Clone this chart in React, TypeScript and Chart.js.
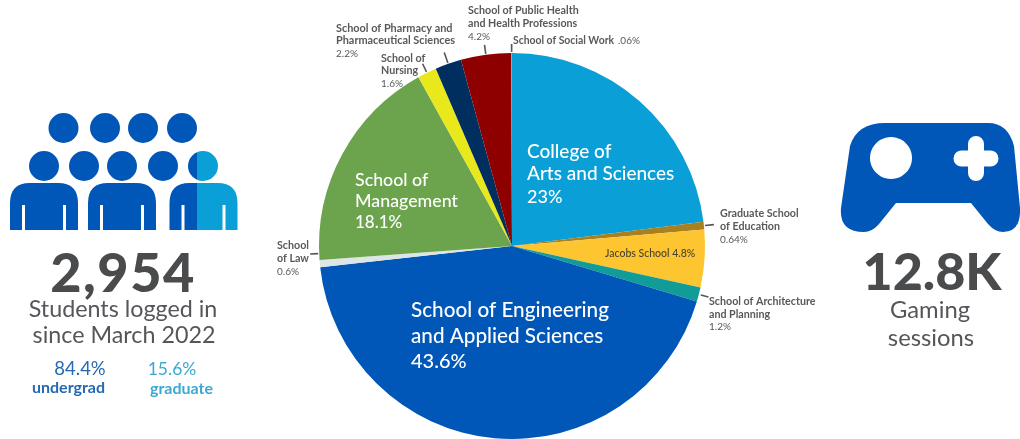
import React, { useEffect, useRef } from "react";
import { Chart, registerables } from "chart.js";

Chart.register(...registerables);

const schools = [
  "College of Arts and Sciences",
  "Graduate School of Education",
  "Jacobs School",
  "School of Architecture and Planning",
  "School of Engineering and Applied Sciences",
  "School of Law",
  "School of Management",
  "School of Nursing",
  "School of Pharmacy and Pharmaceutical Sciences",
  "School of Public Health and Health Professions",
  "School of Social Work",
];
const shares = [23, 0.64, 4.8, 1.2, 43.6, 0.6, 18.1, 1.6, 2.2, 4.2, 0.06];
const sliceColors = [
  "#0a9fd6", "#a8801f", "#fdc530", "#129c98", "#0057b8", "#dde5e5",
  "#6ba44c", "#e8e81c", "#002f5f", "#8e0000", "#e8776b",
];

const FONT = "Lato, 'Noto Sans', sans-serif";
const GREY = "#58595b";

// [text, x, baseline y, font size, weight, colour]
type T = [string, number, number, number, number, string];
const pieTexts: T[] = [
  ["College of", 527, 158, 19, 500, "#fff"],
  ["Arts and Sciences", 527, 180, 19, 500, "#fff"],
  ["23%", 527, 203, 18, 500, "#fff"],
  ["School of", 355, 186, 17.8, 500, "#fff"],
  ["Management", 355, 207, 17.8, 500, "#fff"],
  ["18.1%", 355, 228, 17, 500, "#fff"],
  ["School of Engineering", 411, 317, 20.7, 500, "#fff"],
  ["and Applied Sciences", 411, 343, 20.7, 500, "#fff"],
  ["43.6%", 411, 368, 20, 500, "#fff"],
  ["Jacobs School 4.8%", 605, 257, 10.5, 500, "#4a4430"],
  ["School of Public Health", 468, 14, 10.7, 700, GREY],
  ["and Health Professions", 468, 27, 10.7, 700, GREY],
  ["4.2%", 468, 40, 10, 400, GREY],
  ["School of Pharmacy and", 336, 32, 10.9, 700, GREY],
  ["Pharmaceutical Sciences", 336, 44, 10.9, 700, GREY],
  ["2.2%", 336, 57, 10, 400, GREY],
  ["School of", 381, 62, 10.7, 700, GREY],
  ["Nursing", 381, 74, 10.7, 700, GREY],
  ["1.6%", 381, 87, 10, 400, GREY],
  ["School of Social Work", 513, 44, 10.4, 700, GREY],
  [".06%", 618, 44, 10, 400, GREY],
  ["Graduate School", 720, 217, 10.7, 700, GREY],
  ["of Education", 720, 230, 10.7, 700, GREY],
  ["0.64%", 720, 243, 10, 400, GREY],
  ["School of Architecture", 709, 305, 10.7, 700, GREY],
  ["and Planning", 709, 318, 10.7, 700, GREY],
  ["1.2%", 709, 330, 10, 400, GREY],
  ["School", 277, 249, 10.7, 700, GREY],
  ["of Law", 277, 262, 10.7, 700, GREY],
  ["0.6%", 277, 275, 10, 400, GREY],
];

// [slice index, gap from the rim, length, angle nudge in degrees]
const leaders: [number, number, number, number][] = [
  [10, 1, 8, 0],
  [9, 1, 9, 0],
  [8, 1, 11, 0],
  [7, 1, 9, 0],
  [1, 1, 9, 0],
  [3, 2, 8, 0],
  [5, 1, 8, 3],
];

const piePlugin = {
  id: "pieNotes",
  afterDatasetsDraw(chart: any) {
    const { ctx } = chart;
    ctx.save();
    ctx.strokeStyle = "#55565a";
    ctx.lineWidth = 1.6;
    const arcs = chart.getDatasetMeta(0).data;
    for (const [i, gap, len, nudge] of leaders) {
      const a = arcs[i];
      const mid = (a.startAngle + a.endAngle) / 2 + (nudge * Math.PI) / 180;
      const r0 = a.outerRadius + gap;
      ctx.beginPath();
      ctx.moveTo(a.x + Math.cos(mid) * r0, a.y + Math.sin(mid) * r0);
      ctx.lineTo(a.x + Math.cos(mid) * (r0 + len), a.y + Math.sin(mid) * (r0 + len));
      ctx.stroke();
    }
    ctx.textAlign = "left";
    ctx.textBaseline = "alphabetic";
    for (const [s, x, y, size, weight, color] of pieTexts) {
      ctx.font = `${weight} ${size}px ${FONT}`;
      ctx.fillStyle = color;
      ctx.fillText(s, x, y);
    }
    ctx.restore();
  },
};

const BLUE = "#0057b8";
const CYAN = "#0a9fd6";
const topHeads = [63.5, 105, 143, 182];
const lowHeads = [44, 84, 122, 163];
const bodies = [10, 88];

const bodyPath = (x: number) =>
  `M${x} 230V203Q${x} 183 ${x + 20} 183H${x + 48}Q${x + 68} 183 ${x + 68} 203V230H${x + 56}V205H${x + 53}V230H${x + 15}V205H${x + 12}V230Z`;

function Label(p: { x: number; y: number; size: number; weight?: number; color?: string; children: string; spacing?: number; align?: "center" | "left" }) {
  const centered = p.align !== "left";
  return (
    <div
      style={{
        position: "absolute",
        left: p.x,
        top: p.y,
        transform: `translate(${centered ? "-50%" : "0"}, -50%)`,
        whiteSpace: "nowrap",
        letterSpacing: p.spacing ?? 0,
        font: `${p.weight ?? 400} ${p.size}px ${FONT}`,
        color: p.color ?? "#55565a",
      }}
    >
      {p.children}
    </div>
  );
}

export default function App() {
  const ref = useRef<HTMLCanvasElement>(null);
  useEffect(() => {
    const chart = new Chart(ref.current!, {
      type: "pie",
      data: {
        labels: schools,
        datasets: [{ data: shares, backgroundColor: sliceColors, borderWidth: 0 }],
      },
      options: {
        responsive: false,
        animation: false,
        layout: { padding: { left: 319, right: 315, top: 53, bottom: 0 } },
        plugins: { legend: { display: false }, tooltip: { enabled: false } },
      },
      plugins: [piePlugin],
    } as any);
    return () => chart.destroy();
  }, []);

  return (
    <div style={{ position: "fixed", left: 0, top: 0, width: 1020, height: 439, background: "#fff", overflow: "hidden" }}>
      <canvas ref={ref} width={1020} height={439} style={{ position: "absolute", left: 0, top: 0, width: 1020, height: 439 }} />
      <svg width={1020} height={439} style={{ position: "absolute", left: 0, top: 0 }}>
        {topHeads.map((x) => <circle key={x} cx={x} cy={128} r={15} fill={BLUE} />)}
        {lowHeads.map((x) => <circle key={x} cx={x} cy={166} r={15} fill={BLUE} />)}
        {bodies.map((x) => <path key={x} d={bodyPath(x)} fill={BLUE} />)}
        <clipPath id="leftHalf"><rect x={160} y={140} width={37} height={100} /></clipPath>
        <clipPath id="rightHalf"><rect x={197} y={140} width={50} height={100} /></clipPath>
        <g clipPath="url(#leftHalf)" fill={BLUE}>
          <circle cx={203} cy={166} r={15} />
          <path d={bodyPath(169.5)} />
        </g>
        <g clipPath="url(#rightHalf)" fill={CYAN}>
          <circle cx={203} cy={166} r={15} />
          <path d={bodyPath(169.5)} />
        </g>
        <path
          fill={BLUE}
          fillRule="evenodd"
          d="M885 123H988Q1008 123 1014 146L1020 208Q1021 232 1003 232Q995 232 988 224L971 203H896L879 224Q872 232 864 232Q839 232 841 208L850 146Q857 123 885 123Z
             M891 137a21 21 0 1 0 .01 0Z
             M968 144a8 8 0 0 1 16 0v6.5h6.5a8 8 0 0 1 0 16H984v6.5a8 8 0 0 1-16 0v-6.5h-6.5a8 8 0 0 1 0-16H968Z"
        />
      </svg>
      <Label x={123} y={271} size={54} weight={900} spacing={1.5} color="#4a4b4d">2,954</Label>
      <Label x={123} y={308} size={23.3}>Students logged in</Label>
      <Label x={124} y={334} size={23.3}>since March 2022</Label>
      <Label x={80} y={368} size={18.5} color="#2569b3">84.4%</Label>
      <Label x={68.5} y={386} size={16} weight={700} color="#2569b3">undergrad</Label>
      <Label x={172} y={368} size={17.5} color="#3aa9d2">15.6%</Label>
      <Label x={181.5} y={387} size={16} weight={700} color="#3aa9d2">graduate</Label>
      <Label x={932} y={270} size={52} weight={900} color="#4a4b4d">12.8K</Label>
      <Label x={930} y={309} size={23.8}>Gaming</Label>
      <Label x={931} y={337} size={23.8}>sessions</Label>
    </div>
  );
}
